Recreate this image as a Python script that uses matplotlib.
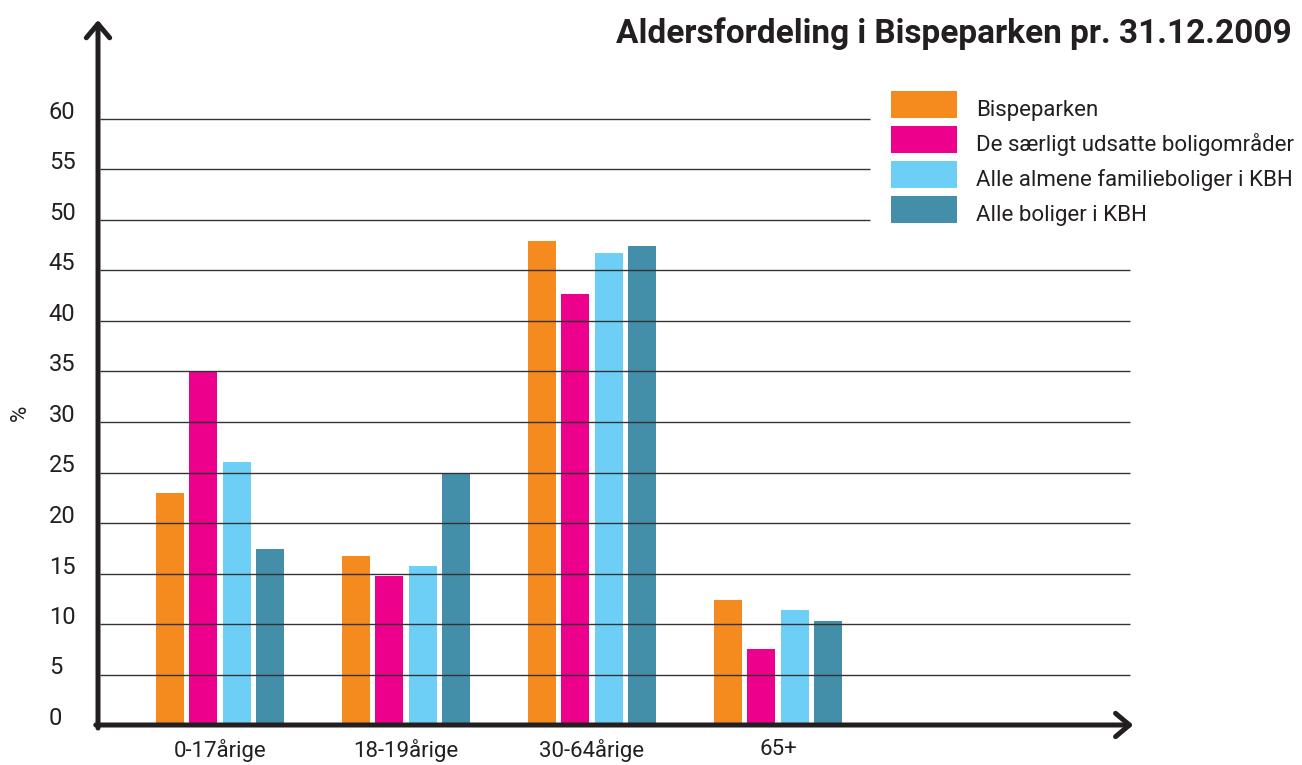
import matplotlib
matplotlib.use("Agg")
import matplotlib.pyplot as plt
import matplotlib.transforms as mtransforms
from matplotlib.patches import Patch
from matplotlib import font_manager

categories = ["0-17årige", "18-19årige", "30-64årige", "65+"]
series_names = ["Bispeparken", "De særligt udsatte boligområder",
                "Alle almene familieboliger i KBH", "Alle boliger i KBH"]
bispeparken = [23.0, 16.7, 47.9, 12.4]
udsatte = [35.0, 14.8, 42.7, 7.5]
almene = [26.0, 15.7, 46.7, 11.4]
alle = [17.4, 24.9, 47.4, 10.3]
yticks = [0, 5, 10, 15, 20, 25, 30, 35, 40, 45, 50, 55, 60]
title = "Aldersfordeling i Bispeparken pr. 31.12.2009"

colors = ["#F58B1F", "#EC008C", "#6DCFF6", "#438EA8"]
ink = "#231F20"

names = {f.name for f in font_manager.fontManager.ttflist}
base_font = "Roboto" if "Roboto" in names else "DejaVu Sans"
plt.rcParams["font.family"] = [base_font, "DejaVu Sans"]

W, H = 1302, 765
fig = plt.figure(figsize=(W / 100, H / 100), dpi=100)
# axes box in pixels: left 98, right 1135, top 18, bottom 725
ax = fig.add_axes([98 / W, (H - 725) / H, (1135 - 98) / W, (725 - 18) / H])
ax.set_xlim(-0.656, 4.919)
ax.set_ylim(0, 70)
for s in ax.spines.values():
    s.set_visible(False)

series = [bispeparken, udsatte, almene, alle]
bw = 0.1505
step = 0.179
x = list(range(len(categories)))
for i, (vals, c) in enumerate(zip(series, colors)):
    ax.bar([xi + (i - 1.5) * step for xi in x], vals, width=bw, color=c,
           zorder=2, label=series_names[i])

# gridlines drawn over the bars
for y in yticks[1:]:
    xend = 3.495 if y >= 50 else 4.892
    ax.hlines(y, -0.645, xend, color="#333333", lw=1.0, zorder=3)

# axes with arrows
astyle = "->,head_length=0.5,head_width=0.42"
ax.annotate("", xy=(4.91, 0), xytext=(-0.668, 0), xycoords="data",
            arrowprops=dict(arrowstyle=astyle, lw=3.6, color=ink,
                            mutation_scale=20, shrinkA=0, shrinkB=0),
            annotation_clip=False, zorder=4)
ax.annotate("", xy=(-0.656, 69.8), xytext=(-0.656, -0.3), xycoords="data",
            arrowprops=dict(arrowstyle=astyle, lw=3.6, color=ink,
                            mutation_scale=20, shrinkA=0, shrinkB=0),
            annotation_clip=False, zorder=4)

ax.set_yticks(yticks)
ax.set_yticklabels([str(v) for v in yticks], ha="left", va="baseline",
                   fontsize=17, color=ink)
ax.tick_params(axis="y", length=0, pad=35.5)
ax.set_xticks(x)
ax.set_xticklabels(categories, fontsize=16, color=ink)
ax.tick_params(axis="x", length=0, pad=10)

fig.text(20 / W, (H - 413) / H, "%", rotation=90, fontsize=16, color=ink,
         ha="center", va="center")

fig.text(1292 / W, (H - 43) / H, title, ha="right", va="baseline",
         fontsize=24, fontweight="bold", color=ink)

handles = [Patch(facecolor=c) for c in colors]
fs = 16
leg = fig.legend(handles, series_names, loc="upper left",
                 bbox_to_anchor=(891 / W, (H - 91) / H), frameon=False,
                 fontsize=fs, handlelength=2.97, handleheight=1.49,
                 labelspacing=0.36, handletextpad=0.86, borderpad=0,
                 borderaxespad=0)
for t in leg.get_texts():
    t.set_color(ink)
    t.set_transform(t.get_transform() + mtransforms.Affine2D().translate(0, -4))

fig.savefig("out.png", dpi=100)
